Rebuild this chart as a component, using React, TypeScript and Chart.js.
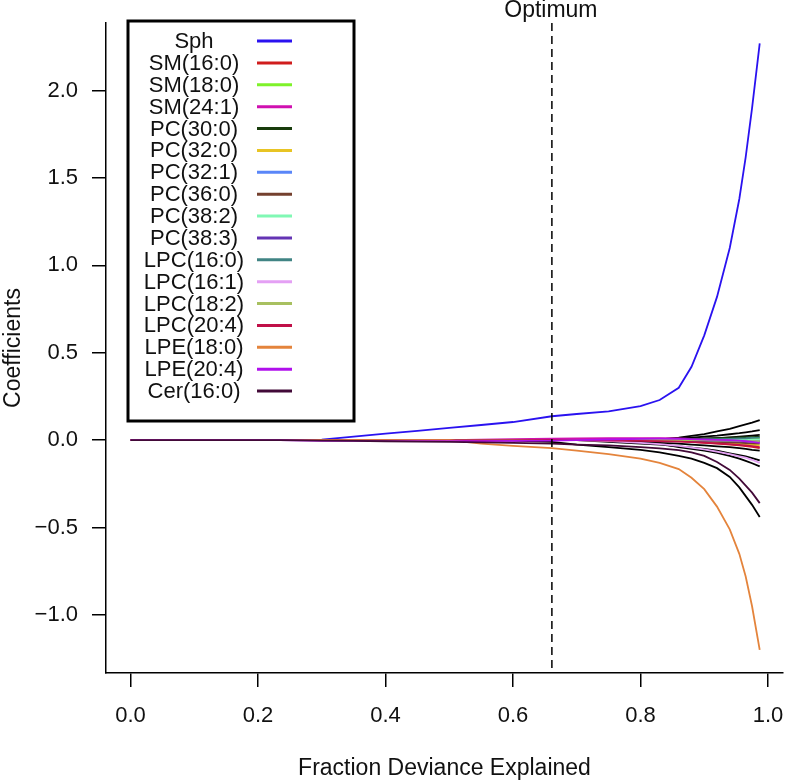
import React, { useEffect, useRef } from "react";
import { Chart, registerables } from "chart.js";

Chart.register(...registerables);

// x positions along the path (fraction of deviance explained)
const fraction = [0, 0.1, 0.2, 0.234, 0.3, 0.35, 0.4, 0.45, 0.5, 0.55, 0.6, 0.661, 0.7, 0.75, 0.8, 0.83, 0.86, 0.88, 0.9, 0.92, 0.94, 0.955, 0.965, 0.975, 0.987];

const seriesNames = ["Sph", "SM(16:0)", "SM(18:0)", "SM(24:1)", "PC(30:0)", "PC(32:0)", "PC(32:1)", "PC(36:0)", "PC(38:2)", "PC(38:3)", "LPC(16:0)", "LPC(16:1)", "LPC(18:2)", "LPC(20:4)", "LPE(18:0)", "LPE(20:4)", "Cer(16:0)"];
const seriesColors = ["#2a12f0", "#d01c1c", "#7ef22a", "#d010b0", "#183c0c", "#e8c424", "#5a86f8", "#74402e", "#80f8b4", "#6434b4", "#408484", "#e4a0f4", "#a8c060", "#c01048", "#e4843c", "#b010ec", "#420a38"];

const sph = [0, 0, 0, 0, 0.003, 0.02, 0.037, 0.053, 0.07, 0.087, 0.104, 0.137, 0.15, 0.165, 0.195, 0.23, 0.3, 0.42, 0.6, 0.82, 1.1, 1.38, 1.62, 1.9, 2.27];
const sm160 = [0, 0, 0, 0, 0, 0, 0, 0, 0, 0, 0, 0.003, 0.005, 0.006, 0.004, 0, -0.005, -0.01, -0.015, -0.02, -0.025, -0.03, -0.034, -0.038, -0.045];
const sm180 = [0, 0, 0, 0, 0, 0, 0, 0, 0, 0, 0, 0, 0, 0, 0, 0, 0, 0.002, 0.003, 0.004, 0.005, 0.006, 0.007, 0.008, 0.01];
const sm241 = [0, 0, 0, 0, 0, 0, 0, 0, 0, 0.003, 0.006, 0.009, 0.01, 0.011, 0.012, 0.011, 0.01, 0.008, 0.006, 0.004, 0.002, 0, -0.002, -0.003, -0.005];
const pc300 = [0, 0, 0, 0, 0, 0, 0, 0, 0, 0, 0, 0, 0, 0, 0.002, 0.004, 0.006, 0.008, 0.01, 0.012, 0.014, 0.016, 0.017, 0.018, 0.02];
const pc320 = [0, 0, 0, 0, 0, 0, 0, 0, 0, 0, 0, 0, 0, 0, 0, 0, 0, -0.003, -0.006, -0.01, -0.015, -0.019, -0.022, -0.026, -0.03];
const pc321 = [0, 0, 0, 0, 0, 0, 0, 0, 0, 0, 0, 0, 0, 0, 0, 0, 0, 0, 0.001, 0.001, 0, 0, -0.001, -0.001, 0];
const pc360 = [0, 0, 0, 0, 0, 0, 0, 0, 0, 0, 0, 0, 0, 0, 0, 0, -0.002, -0.004, -0.006, -0.009, -0.012, -0.014, -0.016, -0.018, -0.02];
const pc382 = [0, 0, 0, 0, 0, 0, 0, 0, 0, 0, 0, 0, 0, 0, 0, 0, 0, 0, 0, 0.001, 0.002, 0.003, 0.003, 0.004, 0.005];
const pc383 = [0, 0, 0, 0, 0, 0, 0, 0, 0, 0, 0, 0, 0, 0, 0, 0, -0.001, -0.002, -0.003, -0.004, -0.005, -0.006, -0.007, -0.008, -0.01];
const lpc160 = [0, 0, 0, 0, 0, 0, 0, 0, 0, 0, 0, 0, 0, 0, 0, 0, 0, 0.002, 0.004, 0.006, 0.008, 0.01, 0.011, 0.013, 0.015];
const lpc161 = [0, 0, 0, 0, 0, 0, 0, 0, 0, 0, 0, 0, 0, -0.005, -0.015, -0.022, -0.032, -0.042, -0.052, -0.065, -0.08, -0.092, -0.1, -0.112, -0.13];
const lpc182 = [0, 0, 0, 0, 0, 0, 0, 0, 0, 0, 0, 0, 0, 0, 0, 0.001, 0.001, 0, -0.001, -0.002, -0.003, -0.004, -0.005, -0.005, -0.006];
const lpc204 = [0, 0, 0, 0, 0, 0, 0, 0, 0, 0, 0, 0.001, 0, -0.002, -0.004, -0.006, -0.008, -0.011, -0.014, -0.018, -0.022, -0.027, -0.03, -0.034, -0.04];
const lpe180 = [0, 0, 0, 0, 0, 0, 0, 0, 0, -0.02, -0.033, -0.045, -0.06, -0.08, -0.105, -0.13, -0.165, -0.215, -0.28, -0.38, -0.51, -0.65, -0.78, -0.95, -1.2];
const lpe204 = [0, 0, 0, 0, -0.004, -0.004, -0.005, -0.005, -0.005, -0.005, -0.004, -0.003, 0, 0.004, 0.008, 0.009, 0.008, 0.006, 0.004, 0.002, 0, -0.003, -0.006, -0.01, -0.015];
const cer160 = [0, 0, 0, 0, -0.002, -0.004, -0.006, -0.008, -0.01, -0.012, -0.015, -0.02, -0.025, -0.03, -0.04, -0.047, -0.057, -0.07, -0.09, -0.125, -0.17, -0.22, -0.26, -0.3, -0.36];

// other coefficients (drawn in black, not in legend)
const other1 = [0, 0, 0, 0, 0, 0, 0, 0, 0, 0, -0.003, -0.01, -0.025, -0.04, -0.055, -0.07, -0.09, -0.105, -0.13, -0.16, -0.21, -0.27, -0.32, -0.37, -0.44];
const other2 = [0, 0, 0, 0, 0, 0, 0, 0, 0, 0, 0, 0, 0, 0, 0, 0.005, 0.015, 0.025, 0.035, 0.05, 0.065, 0.08, 0.09, 0.1, 0.115];
const other3 = [0, 0, 0, 0, 0, 0, 0, 0, 0, 0, 0, 0, 0, 0, 0.003, 0.006, 0.01, 0.014, 0.02, 0.026, 0.034, 0.04, 0.045, 0.05, 0.057];
const other4 = [0, 0, 0, 0, 0, 0, 0, 0, 0, 0, 0, 0, 0, -0.01, -0.02, -0.025, -0.035, -0.042, -0.05, -0.06, -0.075, -0.085, -0.093, -0.102, -0.115];
const other5 = [0, 0, 0, 0, 0, 0, 0, 0, 0, 0, 0, 0, 0, 0, -0.005, -0.02, -0.04, -0.05, -0.06, -0.072, -0.09, -0.105, -0.118, -0.132, -0.15];
const other6 = [0, 0, 0, 0, 0, 0, 0, 0, 0, 0, 0, 0, 0, 0, 0, 0, 0.003, 0.006, 0.009, 0.012, 0.016, 0.02, 0.023, 0.026, 0.03];
const other7 = [0, 0, 0, 0, 0, 0, 0, 0, 0, 0, 0, 0, 0, 0, -0.01, -0.015, -0.02, -0.025, -0.03, -0.035, -0.04, -0.045, -0.05, -0.055, -0.06];

const xTicks = [0, 0.2, 0.4, 0.6, 0.8, 1.0];
const yTicks = [-1.0, -0.5, 0, 0.5, 1.0, 1.5, 2.0];
const optimum = 0.661;
const optimumLabel = "Optimum";
const xTitle = "Fraction Deviance Explained";
const yTitle = "Coefficients";

const FONT = "'Liberation Sans', Arial, Helvetica, sans-serif";

function fmt(v: number) {
  const s = Number(v).toFixed(1);
  return s.startsWith("-") ? "\u2212" + s.slice(1) : s;
}

export default function App() {
  const ref = useRef<HTMLCanvasElement | null>(null);

  useEffect(() => {
    if (!ref.current) return;
    const labeled = [sph, sm160, sm180, sm241, pc300, pc320, pc321, pc360, pc382, pc383, lpc160, lpc161, lpc182, lpc204, lpe180, lpe204, cer160];
    const others = [other1, other2, other3, other4, other5, other6, other7];
    const all: any[] = [];
    others.forEach((arr) => all.push({ label: "", data: arr, color: "#000000" }));
    labeled.forEach((arr, i) => all.push({ label: seriesNames[i], data: arr, color: seriesColors[i] }));
    const n = all.length;
    const datasets = all.map((s, i) => ({
      label: s.label,
      data: fraction.map((f, j) => ({ x: f, y: s.data[j] })),
      borderColor: s.color,
      backgroundColor: s.color,
      borderWidth: 1.8,
      pointRadius: 0,
      tension: 0,
      fill: false,
      order: n - i,
    }));

    const overlay = {
      id: "overlay",
      afterDatasetsDraw(chart: any) {
        const ctx = chart.ctx;
        const xs = chart.scales.x;
        const area = chart.chartArea;
        const px = xs.getPixelForValue(optimum);
        ctx.save();
        ctx.strokeStyle = "#000";
        ctx.lineWidth = 1.5;
        ctx.setLineDash([8, 5]);
        ctx.beginPath();
        ctx.moveTo(px, area.top);
        ctx.lineTo(px, area.bottom);
        ctx.stroke();
        ctx.setLineDash([]);
        ctx.fillStyle = "#111";
        ctx.font = `23px ${FONT}`;
        ctx.textAlign = "center";
        ctx.textBaseline = "middle";
        ctx.fillText(optimumLabel, px - 1, 11);

        // legend box
        const bx = 128, by = 21, bw = 226, bh = 400;
        ctx.fillStyle = "#fff";
        ctx.fillRect(bx, by, bw, bh);
        ctx.lineWidth = 3;
        ctx.strokeStyle = "#000";
        ctx.strokeRect(bx, by, bw, bh);
        const rowH = 21.875;
        seriesNames.forEach((name, i) => {
          const y = 41 + i * rowH;
          ctx.fillStyle = "#111";
          ctx.font = `22px ${FONT}`;
          ctx.textAlign = "center";
          ctx.textBaseline = "middle";
          ctx.fillText(name, 194, y + 1);
          ctx.strokeStyle = seriesColors[i];
          ctx.lineWidth = 3;
          ctx.beginPath();
          ctx.moveTo(257, y);
          ctx.lineTo(292, y);
          ctx.stroke();
        });
        ctx.restore();
      },
    };

    const chart = new Chart(ref.current, {
      type: "line",
      data: { datasets },
      options: {
        animation: false,
        responsive: false,
        devicePixelRatio: 1,
        layout: { padding: { top: 23, right: 5, left: 0, bottom: 0 } },
        plugins: { legend: { display: false }, tooltip: { enabled: false } },
        scales: {
          x: {
            type: "linear",
            min: -0.03843,
            max: 1.02353,
            afterFit: (s: any) => { s.height = 109; s.paddingLeft = 0; s.paddingRight = 0; },
            afterBuildTicks: (s: any) => { s.ticks = xTicks.map((v) => ({ value: v })); },
            ticks: { callback: (v: any) => fmt(v), font: { family: FONT, size: 22 }, color: "#111", padding: 16, maxRotation: 0, autoSkip: false },
            grid: { drawOnChartArea: false, drawTicks: true, tickLength: 14, color: "#000", lineWidth: 1.5 },
            border: { display: true, color: "#000", width: 1.5 },
            title: { display: true, text: xTitle, font: { family: FONT, size: 23 }, color: "#111", padding: { top: 0, bottom: 0 } },
          },
          y: {
            type: "linear",
            min: -1.332,
            max: 2.387,
            afterFit: (s: any) => { s.width = 106; s.paddingTop = 0; s.paddingBottom = 0; },
            afterBuildTicks: (s: any) => { s.ticks = yTicks.map((v) => ({ value: v })); },
            ticks: { callback: (v: any) => fmt(v), font: { family: FONT, size: 22 }, color: "#111", padding: 14, autoSkip: false },
            grid: { drawOnChartArea: false, drawTicks: true, tickLength: 14, color: "#000", lineWidth: 1.5 },
            border: { display: true, color: "#000", width: 1.5 },
            title: { display: true, text: yTitle, font: { family: FONT, size: 23 }, color: "#111", padding: { top: 0, bottom: 0 } },
          },
        },
      },
      plugins: [overlay],
    } as any);
    return () => chart.destroy();
  }, []);

  return (
    <div style={{ position: "absolute", left: 0, top: 0, width: 788, height: 782, background: "#fff" }}>
      <canvas ref={ref} width={788} height={782} style={{ display: "block" }} />
    </div>
  );
}
